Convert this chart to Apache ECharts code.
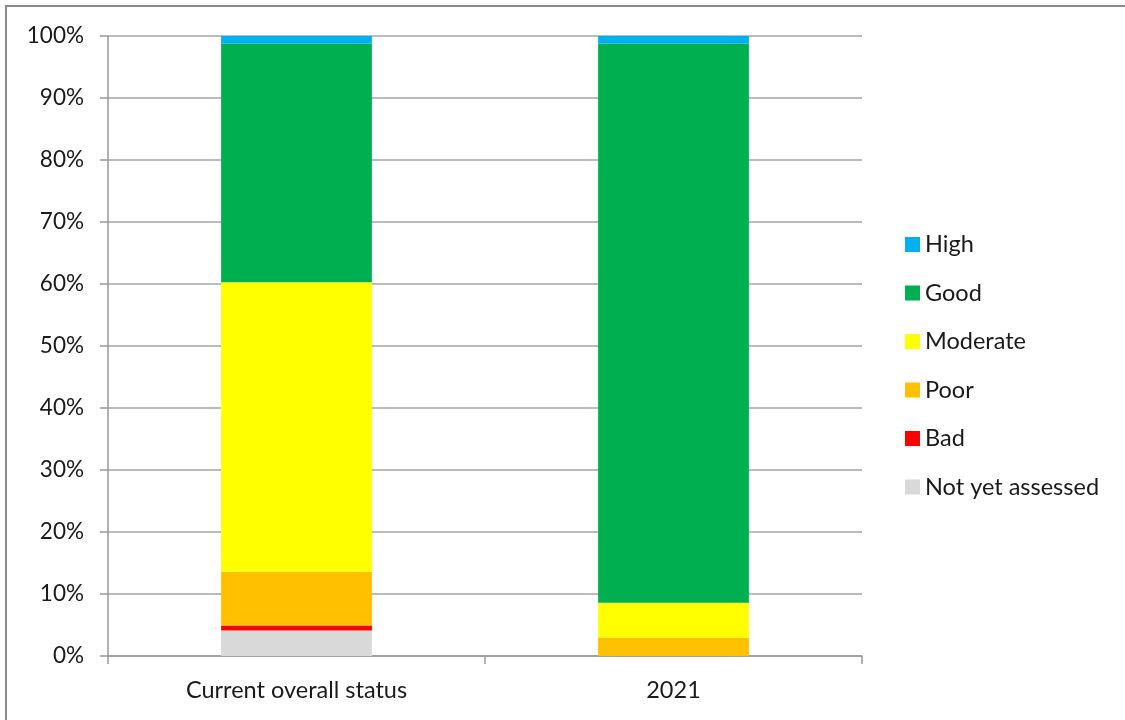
<!DOCTYPE html>
<html>
<head>
<meta charset="utf-8">
<script src="https://cdn.jsdelivr.net/npm/echarts@6/dist/echarts.min.js"></script>
<style>
html,body{margin:0;padding:0;background:#fff;}
#chart{width:1125px;height:720px;}
</style>
</head>
<body>
<div id="chart"></div>
<script>
var categories = ['Current overall status', '2021'];
var notYetAssessed = [4.1, 0];
var bad = [0.8, 0];
var poor = [8.7, 3.0];
var moderate = [46.7, 5.6];
var good = [38.5, 90.2];
var high = [1.2, 1.2];
var yTicks = [0, 10, 20, 30, 40, 50, 60, 70, 80, 90, 100];

var font = 'Lato';
var textColor = '#1a1a1a';

function mk(name, data, color) {
  return {
    name: name, type: 'bar', stack: 'total', data: data,
    barWidth: '40%',
    itemStyle: { color: color },
    emphasis: { disabled: true }
  };
}

var chart = echarts.init(document.getElementById('chart'), null, { renderer: 'canvas' });
chart.setOption({
  animation: false,
  backgroundColor: '#fff',
  graphic: [{
    type: 'rect', silent: true, z: 100,
    shape: { x: 6, y: 6, width: 1200, height: 800 },
    style: { fill: 'none', stroke: '#8a8a8a', lineWidth: 2 }
  }],
  grid: { left: 108, right: 263, top: 36, bottom: 64, containLabel: false },
  legend: {
    orient: 'vertical',
    left: 900, top: 227,
    itemWidth: 15, itemHeight: 15, itemGap: 23.5,
    icon: 'rect',
    textStyle: { fontFamily: font, fontSize: 23.5, color: textColor, lineHeight: 25 },
    data: ['High', 'Good', 'Moderate', 'Poor', 'Bad', 'Not yet assessed']
  },
  xAxis: {
    type: 'category', data: categories,
    boundaryGap: true,
    axisLine: { lineStyle: { color: '#999', width: 1.5 } },
    axisTick: { show: true, alignWithLabel: false, length: 8, lineStyle: { color: '#999', width: 1.5 } },
    axisLabel: { fontFamily: font, fontSize: 23.5, color: textColor, margin: 22 }
  },
  yAxis: {
    type: 'value', min: 0, max: 100, interval: 10,
    axisLine: { show: true, lineStyle: { color: '#999', width: 1.5 } },
    axisTick: { show: true, length: 8, lineStyle: { color: '#999', width: 1.5 } },
    splitLine: { show: true, lineStyle: { color: '#a6a6a6', width: 1.5 } },
    axisLabel: {
      fontFamily: font, fontSize: 22.5, color: textColor, margin: 24,
      formatter: function (v) { return yTicks.indexOf(v) >= 0 ? v + '%' : ''; }
    }
  },
  series: [
    mk('Not yet assessed', notYetAssessed, '#D9D9D9'),
    mk('Bad', bad, '#FF0000'),
    mk('Poor', poor, '#FFC000'),
    mk('Moderate', moderate, '#FFFF00'),
    mk('Good', good, '#00B050'),
    mk('High', high, '#00B0F0')
  ]
});
</script>
</body>
</html>
